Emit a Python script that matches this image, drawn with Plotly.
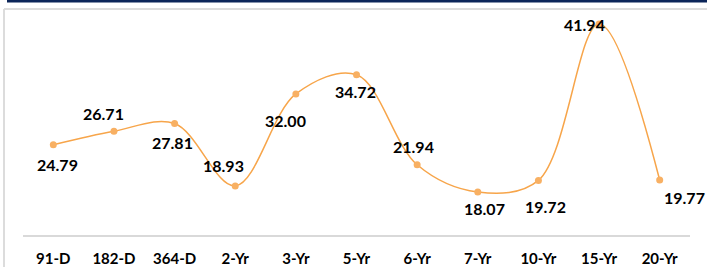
import plotly.graph_objects as go

categories = ["91-D", "182-D", "364-D", "2-Yr", "3-Yr", "5-Yr", "6-Yr", "7-Yr", "10-Yr", "15-Yr", "20-Yr"]
values = [24.79, 26.71, 27.81, 18.93, 32.00, 34.72, 21.94, 18.07, 19.72, 41.94, 19.77]
labels = ["24.79", "26.71", "27.81", "18.93", "32.00", "34.72", "21.94", "18.07", "19.72", "41.94", "19.77"]

# label offsets in pixels (dx right, dy down) relative to each point
label_dx = [4, -10, -2, -12, -10, -1, -4, 7, 7, -15, 25]
label_dy = [20, -18, 19, -20, 27, 17, -18, 16, 26, 1, 17]

W, H = 707, 267
ML, MR, MT, MB = 23, 17, 9, 32
pw, ph = W - ML - MR, H - MT - MB

def px(x):
    return (x - ML) / pw

def py(y):
    return 1 - (y - MT) / ph

line_color = "#F7A54A"
font = "Lato, 'Open Sans', sans-serif"

fig = go.Figure()
fig.add_trace(go.Scatter(
    x=list(range(len(categories))), y=values, mode="lines+markers",
    line=dict(color=line_color, width=1.5, shape="spline", smoothing=1.0),
    marker=dict(color="#F8B063", size=7),
    hoverinfo="skip", showlegend=False,
))

for i, (v, t) in enumerate(zip(values, labels)):
    fig.add_annotation(x=i, y=v, text="<b>%s</b>" % t, showarrow=False,
                       xshift=label_dx[i], yshift=-label_dy[i],
                       font=dict(family=font, size=16, color="#000000"))

shapes = [
    dict(type="rect", xref="paper", yref="paper", x0=px(7), x1=px(W + 5), y0=py(-1), y1=py(2.6),
         fillcolor="#0B2559", line=dict(width=0), layer="above"),
    dict(type="line", xref="paper", yref="paper", x0=px(4), x1=px(W + 5), y0=py(9), y1=py(9),
         line=dict(color="#DCDCDC", width=2)),
    dict(type="line", xref="paper", yref="paper", x0=px(4), x1=px(4), y0=py(9), y1=py(H + 5),
         line=dict(color="#DCDCDC", width=2)),
]

fig.update_layout(
    width=W, height=H,
    margin=dict(l=ML, r=MR, t=MT, b=MB),
    paper_bgcolor="white", plot_bgcolor="white",
    shapes=shapes,
    xaxis=dict(tickmode="array", tickvals=list(range(len(categories))),
               ticktext=["<b>%s</b>" % c for c in categories],
               range=[-0.5, len(categories) - 0.5], showgrid=False, zeroline=False,
               showline=True, linecolor="#D9D9D9", linewidth=1.5, automargin=False,
               tickfont=dict(family=font, size=15, color="#000000"),
               ticklabelstandoff=9, fixedrange=True),
    yaxis=dict(range=[11.96, 44.07], visible=False, showgrid=False, zeroline=False,
               automargin=False, fixedrange=True),
    font=dict(family=font),
)

fig.write_html("out.html", config={"displayModeBar": False},
               post_script="document.body.style.margin='0';document.body.style.overflow='hidden';")
